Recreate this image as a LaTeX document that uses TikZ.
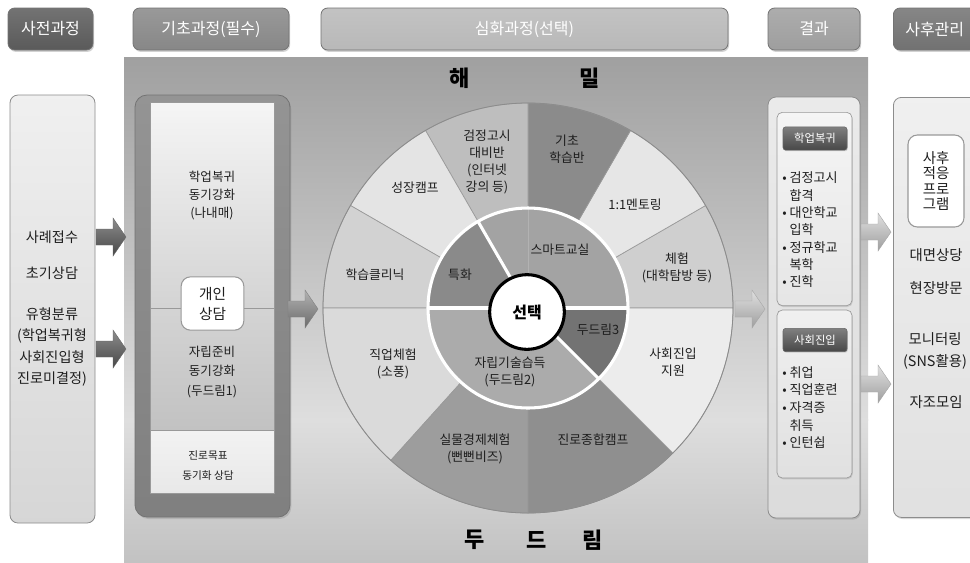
\documentclass[tikz,border=0pt]{standalone}
\usepackage{fontspec}
\setmainfont{Noto Sans CJK KR}
\usetikzlibrary{shadows}
\newcommand{\myfs}[2]{\fontsize{#1}{#2}\selectfont}
\definecolor{hA}{HTML}{5A5A5A}
\definecolor{hB}{HTML}{878787}
\definecolor{hC}{HTML}{B8B8B8}
\definecolor{hD}{HTML}{9E9E9E}
\definecolor{hE}{HTML}{717171}
\definecolor{pTop}{HTML}{A0A0A0}
\definecolor{pMid}{HTML}{DEDEDE}
\definecolor{pBot}{HTML}{C2C2C2}
\definecolor{segline}{HTML}{9A9A9A}
\definecolor{wA}{HTML}{CFCFCF}
\definecolor{wB}{HTML}{E6E6E6}
\definecolor{wC}{HTML}{8B8B8B}
\definecolor{wD}{HTML}{BEBEBE}
\definecolor{wE}{HTML}{E4E4E4}
\definecolor{wF}{HTML}{D2D2D2}
\definecolor{wG}{HTML}{DADADA}
\definecolor{wH}{HTML}{9D9D9D}
\definecolor{wI}{HTML}{8F8F8F}
\definecolor{wJ}{HTML}{ECECEC}
\definecolor{iA}{HTML}{A3A3A3}
\definecolor{iB}{HTML}{8A8A8A}
\definecolor{iC}{HTML}{ABABAB}
\definecolor{iD}{HTML}{737373}
\definecolor{txtc}{HTML}{1E1E1E}
\tikzset{
  blockarrow/.pic={
    \path[pic actions] (0,-8) -- (17,-8) -- (17,-19) -- (30,0) -- (17,19) -- (17,8) -- (0,8) -- cycle;
  }
}
\begin{document}
\begin{tikzpicture}[x=0.75pt,y=-0.75pt,
  txt/.style={font=\myfs{9.6}{12.8}, align=center, inner sep=0pt, text=txtc},
  hdr/.style={rounded corners=5pt, draw=black!55, line width=0.6pt, text=white,
    font=\myfs{12}{12}, inner sep=0pt,
    drop shadow={opacity=0.35, shadow xshift=0.8pt, shadow yshift=-1.4pt}},
  panelbox/.style={rounded corners=6pt, draw=black!45, line width=0.6pt},
  subbtn/.style={rounded corners=2pt, draw=black!60, line width=0.4pt, text=white,
    top color=black!50, bottom color=black!72, font=\myfs{8.5}{10}, inner sep=0pt,
    minimum width=48pt, minimum height=17.5pt,
    drop shadow={opacity=0.3, shadow xshift=0.6pt, shadow yshift=-0.8pt}},
  big/.style={font=\myfs{16.5}{16}\bfseries, inner sep=0pt, text=black},
  whitebox/.style={rounded corners=7pt, draw=black!40, line width=0.8pt, fill=white},
  seg/.style={draw=segline, line width=0.5pt}
]
\useasboundingbox (0,0) rectangle (970,562);
\fill[white] (0,0) rectangle (970,562);

% central panel
\shade[top color=pTop, bottom color=pMid] (124,57) rectangle (868,420);
\shade[top color=pMid, bottom color=pBot] (124,419.5) rectangle (868,562);

% header buttons
\node[hdr, top color=hA!85!white, bottom color=hA, minimum width=63.75pt, minimum height=31.5pt] (hPre) at (50.5,29) {사전과정};
\node[hdr, top color=hB!85!white, bottom color=hB, minimum width=117pt, minimum height=31.5pt] (hBasic) at (211,29) {기초과정(필수)};
\node[hdr, top color=hC!85!white, bottom color=hC, minimum width=305.25pt, minimum height=31.5pt] (hAdv) at (524.5,29) {심화과정(선택)};
\node[hdr, top color=hD!85!white, bottom color=hD, minimum width=69pt, minimum height=31.5pt] (hRes) at (814,29) {결과};
\node[hdr, top color=hE!85!white, bottom color=hE, minimum width=62pt, minimum height=31.5pt, anchor=west] (hPost) at (893,29) {사후관리};

% left box: pre-process
\node[panelbox, top color=black!6, bottom color=black!16, minimum width=63.75pt, minimum height=321pt] (pre) at (52.5,309) {};
\node[txt, font=\myfs{10.6}{14}] (p1) at (52,237) {사례접수};
\node[txt, font=\myfs{10.6}{14}] (p2) at (52,273) {초기상담};
\node[txt, font=\myfs{10.6}{16}] (p3) at (52,347) {유형분류\\(학업복귀형\\사회진입형\\진로미결정)};

% arrows from pre box
\pic[top color=black!45, bottom color=black!72, draw=black!60, line width=0.3pt] (arA) at (96,237) {blockarrow};
\pic[top color=black!45, bottom color=black!72, draw=black!60, line width=0.3pt] (arB) at (96,349) {blockarrow};

% basic box
\node[rounded corners=9pt, top color=black!42, bottom color=black!50, draw=black!55, line width=0.6pt,
  minimum width=116.25pt, minimum height=316.5pt,
  drop shadow={opacity=0.3, shadow xshift=1pt, shadow yshift=-1.5pt}] (basic) at (212.5,306) {};
\shade[top color=black!4, bottom color=black!17, draw=black!40] (150,102) rectangle (274,308);
\shade[top color=black!17, bottom color=black!24, draw=black!40] (150,308) rectangle (274,430);
\shade[top color=black!5, bottom color=black!9, draw=black!40] (150,430) rectangle (274,493);
\node[txt, font=\myfs{9.4}{13.5}] (b1) at (212,196) {학업복귀\\동기강화\\(나내매)};
\node[whitebox, minimum width=47pt, minimum height=40pt, font=\myfs{11}{15}, align=center, inner sep=0pt, text=txtc] (b2) at (212.5,303.5) {개인\\상담};
\node[txt, font=\myfs{9.4}{14.5}] (b3) at (212,372) {자립준비\\동기강화\\(두드림1)};
\node[txt, font=\myfs{8}{15}] (b4) at (208,465) {진로목표\\동기화 상담};

\pic[top color=black!30, bottom color=black!58, draw=black!50, line width=0.3pt] (arC) at (288,309) {blockarrow};

% wheel
\begin{scope}[shift={(528,308)}, yscale=-1]
  \foreach \a/\b/\c in {0/30/wA, 30/60/wB, 60/90/wC, 90/120/wD, 120/150/wE, 150/180/wF, 180/228/wG, 228/270/wH, 270/315/wI, 315/360/wJ}{
    \path[seg, fill=\c] (\a:100) arc[start angle=\a, end angle=\b, radius=100] -- (\b:205) arc[start angle=\b, end angle=\a, radius=205] -- cycle;
  }
  \foreach \a/\b/\c in {0/120/iA, 120/180/iB, 180/315/iC, 315/360/iD}{
    \path[fill=\c] (0,0) -- (\a:100) arc[start angle=\a, end angle=\b, radius=100] -- cycle;
  }
  \draw[black!30, line width=0.3pt] (0,0) -- (90:100);
  \draw[black!45, line width=0.6pt] (0,0) circle[radius=205];
  \draw[white, line width=2.3pt] (0,0) circle[radius=100];
  \draw[white, line width=2.3pt] (-100,0) -- (100,0);
  \draw[white, line width=2.3pt] (0,0) -- (120:100);
  \draw[white, line width=2.3pt] (0,0) -- (-45:100);
\end{scope}
\node[circle, draw=black, line width=2.3pt, fill=white, minimum size=56pt, inner sep=0pt,
  font=\myfs{12}{12}\bfseries, text=black] (sel) at (527,312) {선택};

% wheel labels
\node[txt] (w1) at (677,268) {체험\\(대학탐방 등)};
\node[txt] (w2) at (635,205) {1:1멘토링};
\node[txt] (w3) at (567,149) {기초\\학습반};
\node[txt] (w4) at (487,162) {검정고시\\대비반\\(인터넷\\강의 등)};
\node[txt] (w5) at (415,188) {성장캠프};
\node[txt] (w6) at (375,275) {학습클리닉};
\node[txt] (w7) at (393,364) {직업체험\\(소풍)};
\node[txt] (w8) at (475,449) {실물경제체험\\(뻔뻔비즈)};
\node[txt] (w9) at (593,440) {진로종합캠프};
\node[txt] (w10) at (673,362) {사회진입\\지원};
\node[txt] (i1) at (560,250) {스마트교실};
\node[txt] (i2) at (460,275) {특화};
\node[txt] (i3) at (510,372) {자립기술습득\\(두드림2)};
\node[txt] (i4) at (598,330) {두드림3};

% big labels
\node[big] (t1) at (460,78) {해};
\node[big] (t2) at (590,78) {밀};
\node[big] (t3) at (475,540) {두};
\node[big] (t4) at (537,540) {드};
\node[big] (t5) at (593,540) {림};

\pic[top color=black!12, bottom color=black!38, draw=black!35, line width=0.3pt] (arD) at (735,309) {blockarrow};

% result box
\node[panelbox, top color=black!8, bottom color=black!14, minimum width=69pt, minimum height=315.75pt,
  drop shadow={opacity=0.3, shadow xshift=0.8pt, shadow yshift=-1.2pt}] (res) at (814,307.5) {};
\node[rounded corners=4pt, draw=black!40, line width=0.5pt, top color=black!4, bottom color=black!10,
  minimum width=56.25pt, minimum height=145pt,
  drop shadow={opacity=0.25, shadow xshift=0.6pt, shadow yshift=-1pt}] (resA) at (814.5,209) {};
\node[rounded corners=4pt, draw=black!40, line width=0.5pt, top color=black!6, bottom color=black!12,
  minimum width=56.25pt, minimum height=126pt,
  drop shadow={opacity=0.25, shadow xshift=0.6pt, shadow yshift=-1pt}] (resB) at (814.5,394) {};
\node[subbtn] (rA) at (815,138.5) {학업복귀};
\node[subbtn] (rB) at (815,340) {사회진입};
\node[txt, align=left, anchor=west, font=\myfs{9.8}{13}] (rAl) at (782,230)
  {• 검정고시\\\phantom{• }합격\\• 대안학교\\\phantom{• }입학\\• 정규학교\\\phantom{• }복학\\• 진학};
\node[txt, align=left, anchor=west, font=\myfs{9.8}{13.2}] (rBl) at (782,407.5)
  {• 취업\\• 직업훈련\\• 자격증\\\phantom{• }취득\\• 인턴쉽};

\pic[top color=black!12, bottom color=black!38, draw=black!35, line width=0.3pt] (arE) at (861,232) {blockarrow};
\pic[top color=black!12, bottom color=black!38, draw=black!35, line width=0.3pt] (arF) at (861,384) {blockarrow};

% post box
\node[panelbox, top color=black!6, bottom color=black!12, minimum width=70pt, minimum height=315pt, anchor=north west,
  drop shadow={opacity=0.3, shadow xshift=0.8pt, shadow yshift=-1.2pt}] (post) at (893,97) {};
\node[whitebox, minimum width=42pt, minimum height=69pt, font=\myfs{10.8}{11.5}, text=txtc, align=center, inner sep=0pt] (q0) at (936,181) {사후\\적응\\프로\\그램};
\node[txt, font=\myfs{10.8}{14}] (q1) at (936,255) {대면상당};
\node[txt, font=\myfs{10.8}{14}] (q2) at (936,288) {현장방문};
\node[txt, font=\myfs{10.8}{16.5}] (q3) at (935,351) {모니터링\\(SNS활용)};
\node[txt, font=\myfs{10.8}{14}] (q4) at (936,402) {자조모임};
\end{tikzpicture}
\end{document}
